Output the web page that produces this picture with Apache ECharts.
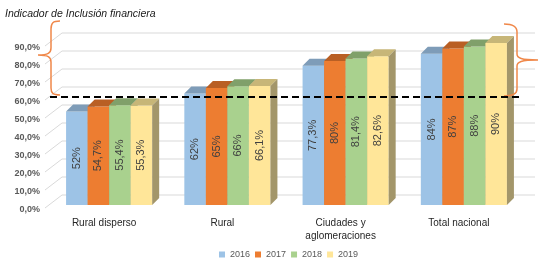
<!DOCTYPE html>
<html lang="es">
<head>
    <meta charset="UTF-8">
    <title>Indicador de Inclusión financiera</title>
    <script src="https://cdn.jsdelivr.net/npm/echarts@6.0.0/dist/echarts.min.js"></script>
    <style>
        html, body { margin: 0; padding: 0; background: #fff; }
        #main { width: 550px; height: 273px; }
    </style>
</head>
<body>
    <div id="main"></div>

    <script>
        // datos del gráfico
        var categories = ['Rural disperso', 'Rural', 'Ciudades y\naglomeraciones', 'Total nacional'];
        var years = ['2016', '2017', '2018', '2019'];
        var v2016 = [52, 62, 77.3, 84];
        var v2017 = [54.7, 65, 80, 87];
        var v2018 = [55.4, 66, 81.4, 88];
        var v2019 = [55.3, 66.1, 82.6, 90];
        var yTicks = [0, 10, 20, 30, 40, 50, 60, 70, 80, 90];
        var threshold = 60;

        var values = [v2016, v2017, v2018, v2019];
        // colores: frente, techo, lateral
        var palette = [
            ['#9DC3E6', '#7E9CB8', '#758FA8'],
            ['#ED7D31', '#B95F24', '#A85A27'],
            ['#A9D18E', '#80A06A', '#789462'],
            ['#FFE699', '#C7B678', '#A3966A']
        ];
        var depth = 7;

        var myChart = echarts.init(document.getElementById('main'));

        function fmtPct(v) {
            return String(v).replace('.', ',') + '%';
        }

        function makeBarRender(idx) {
            return function (params, api) {
                var cat = api.value(0);
                var v = api.value(1);
                var base = api.coord([cat, 0]);
                var top = api.coord([cat, v]);
                var band = api.size([1, 0])[0];
                var bw = band * 0.182;
                var x0 = base[0] - 2 * bw + idx * bw;
                var ty = top[1], by = base[1];
                var c = palette[idx];
                return {
                    type: 'group',
                    children: [
                        {
                            type: 'rect',
                            shape: { x: x0, y: ty, width: bw, height: by - ty },
                            style: { fill: c[0] }
                        },
                        {
                            type: 'polygon',
                            shape: { points: [[x0, ty], [x0 + depth, ty - depth], [x0 + bw + depth, ty - depth], [x0 + bw, ty]] },
                            style: { fill: c[1] }
                        },
                        {
                            type: 'polygon',
                            shape: { points: [[x0 + bw, ty], [x0 + bw + depth, ty - depth], [x0 + bw + depth, by - depth], [x0 + bw, by]] },
                            style: { fill: c[2] }
                        },
                        {
                            type: 'text',
                            x: x0 + bw / 2,
                            y: (ty + by) / 2,
                            rotation: Math.PI / 2,
                            style: {
                                text: fmtPct(v),
                                fill: '#404040',
                                font: '11px "Liberation Sans", Arial, sans-serif',
                                align: 'center',
                                verticalAlign: 'middle'
                            }
                        }
                    ]
                };
            };
        }

        function renderWall(params, api) {
            var cs = params.coordSys;
            var children = [];
            yTicks.forEach(function (t) {
                var y = api.coord([0, t])[1];
                children.push({
                    type: 'line',
                    shape: { x1: cs.x - 5, y1: y + 3, x2: cs.x + 12, y2: y - 10 },
                    style: { stroke: '#D9D9D9', lineWidth: 1 }
                });
                children.push({
                    type: 'line',
                    shape: { x1: cs.x + 12, y1: y - 10, x2: cs.x + cs.width + 12, y2: y - 10 },
                    style: { stroke: '#D9D9D9', lineWidth: 1 }
                });
            });
            return { type: 'group', children: children };
        }

        // llaves naranjas de anotación
        function renderBraces(params, api) {
            var braceStyle = { fill: null, stroke: '#F0884A', lineWidth: 1.5 };
            return {
                type: 'group',
                children: [
                    {
                        type: 'path',
                        shape: { pathData: 'M60,21 C53,21 51,23 51,29 L51,48 C51,53 48,55 38,55 C48,55 51,57 51,62 L51,88 C51,93 53,95 60,95' },
                        style: braceStyle
                    },
                    {
                        type: 'path',
                        shape: { pathData: 'M504,24 C512,24 517,26 517,32 L517,54 C517,58 521,60 538,60 C521,60 517,62 517,66 L517,89 C517,94 512,96 504,96' },
                        style: braceStyle
                    }
                ]
            };
        }

        var series = [{
            type: 'custom',
            name: 'wall',
            silent: true,
            renderItem: renderWall,
            data: [[0, 0]],
            z: 1
        }];

        years.forEach(function (y, i) {
            series.push({
                type: 'custom',
                name: y,
                renderItem: makeBarRender(i),
                itemStyle: { color: palette[i][0] },
                encode: { x: 0, y: 1 },
                data: values[i].map(function (v, k) { return [k, v]; }),
                z: 2
            });
        });

        series.push({
            type: 'custom',
            name: 'braces',
            silent: true,
            renderItem: renderBraces,
            data: [[0, 0]],
            z: 3
        });

        // línea de referencia
        series[4].markLine = {
            silent: true,
            symbol: 'none',
            label: { show: false },
            lineStyle: { color: '#000', type: [7, 4], width: 2 },
            data: [{ yAxis: threshold }]
        };

        myChart.setOption({
            animation: false,
            title: {
                text: 'Indicador de Inclusión financiera',
                left: 0,
                top: 4,
                textStyle: {
                    fontFamily: '"Liberation Sans", Arial, sans-serif',
                    fontStyle: 'italic',
                    fontWeight: 'normal',
                    fontSize: 10.5,
                    color: '#1a1a1a'
                }
            },
            legend: {
                data: years,
                bottom: 9,
                left: 214,
                icon: 'rect',
                itemWidth: 6,
                itemHeight: 6,
                itemGap: 5,
                textStyle: { color: '#595959', fontSize: 9, fontFamily: '"Liberation Sans", Arial, sans-serif' }
            },
            grid: { left: 50, right: 27, top: 43, bottom: 68 },
            xAxis: {
                type: 'category',
                data: categories,
                axisLine: { show: false },
                axisTick: { show: false },
                axisLabel: {
                    margin: 12,
                    color: '#262626',
                    fontSize: 10,
                    lineHeight: 13,
                    padding: [0, 10, 0, 0],
                    fontFamily: '"Liberation Sans", Arial, sans-serif',
                    interval: 0
                }
            },
            yAxis: {
                type: 'value',
                min: 0,
                max: 90,
                interval: 10,
                axisLine: { show: false },
                axisTick: { show: false },
                splitLine: { show: false },
                axisLabel: {
                    margin: 10,
                    color: '#595959',
                    fontSize: 9,
                    fontWeight: 'bold',
                    verticalAlign: 'top',
                    fontFamily: '"Liberation Sans", Arial, sans-serif',
                    formatter: function (v) { return v.toFixed(1).replace('.', ',') + '%'; }
                }
            },
            series: series
        });
    </script>
</body>
</html>
